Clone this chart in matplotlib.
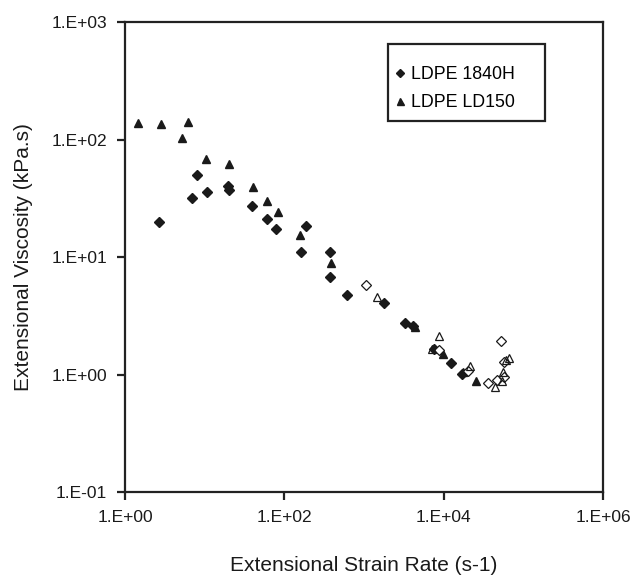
import matplotlib
matplotlib.use("Agg")
import matplotlib.pyplot as plt
from matplotlib.patches import Rectangle
from matplotlib.ticker import FixedLocator, NullLocator

plt.rcParams['font.family'] = ['Liberation Sans', 'DejaVu Sans']

# LDPE 1840H (filled diamonds)
rate_1840h = [2.67, 6.87, 8.08, 10.6, 19.8, 20.0, 39.6, 60.0, 79.1, 185, 160, 373, 373,
              605, 1760, 3230, 4140, 7600, 12500, 17100]
visc_1840h = [19.7, 31.6, 50.1, 35.7, 40.2, 36.9, 27.2, 21.0, 17.4, 18.5, 11.0, 11.1, 6.79,
              4.75, 4.04, 2.77, 2.57, 1.66, 1.25, 1.02]

# LDPE LD150 (filled triangles)
rate_ld150 = [1.47, 2.83, 6.12, 5.19, 10.5, 20.0, 40.0, 60.5, 82.4, 158, 381, 4310,
              9860, 17600, 25700]
visc_ld150 = [139, 135, 141, 104, 67.8, 61.5, 39.2, 30.1, 24.2, 15.5, 8.83, 2.54,
              1.49, 1.05, 0.889]

# LDPE 1840H, second set (open diamonds)
rate_1840h_b = [1047, 8790, 20100, 35900, 46100, 51800, 57400, 57800]
visc_1840h_b = [5.78, 1.62, 1.07, 0.851, 0.898, 1.92, 1.27, 0.948]

# LDPE LD150, second set (open triangles)
rate_ld150_b = [1465, 8630, 7050, 21300, 44300, 60800, 65200, 55800, 53700]
visc_ld150_b = [4.54, 2.13, 1.66, 1.19, 0.787, 1.34, 1.38, 1.06, 0.877]

x_ticks = [1e0, 1e2, 1e4, 1e6]
x_tick_labels = ["1.E+00", "1.E+02", "1.E+04", "1.E+06"]
y_ticks = [1e-1, 1e0, 1e1, 1e2, 1e3]
y_tick_labels = ["1.E-01", "1.E+00", "1.E+01", "1.E+02", "1.E+03"]

fig = plt.figure(figsize=(6.42, 5.82), dpi=100)
ax = fig.add_axes([0.1947, 0.1546, 0.7445, 0.8076])

ink = "#1a1a1a"
ax.plot(rate_1840h, visc_1840h, linestyle="none", marker="D", ms=4.8,
        color=ink, mec=ink, label="LDPE 1840H")
ax.plot(rate_ld150, visc_ld150, linestyle="none", marker="^", ms=6.3,
        color=ink, mec=ink, label="LDPE LD150")
ax.plot(rate_1840h_b, visc_1840h_b, linestyle="none", marker="D", ms=4.8,
        mfc="white", mec=ink, mew=0.9)
ax.plot(rate_ld150_b, visc_ld150_b, linestyle="none", marker="^", ms=6.3,
        mfc="none", mec=ink, mew=0.9)

ax.set_xscale("log")
ax.set_yscale("log")
ax.set_xlim(1e0, 1e6)
ax.set_ylim(1e-1, 1e3)

ax.xaxis.set_major_locator(FixedLocator(x_ticks))
ax.xaxis.set_minor_locator(NullLocator())
ax.set_xticklabels(x_tick_labels)
ax.yaxis.set_major_locator(FixedLocator(y_ticks))
ax.yaxis.set_minor_locator(NullLocator())
ax.set_yticklabels(y_tick_labels)

for s in ax.spines.values():
    s.set_linewidth(1.6)
    s.set_color("#222222")
ax.tick_params(axis="both", which="major", direction="out", length=6, width=1.6,
               color="#222222", labelsize=12.5, labelcolor="#1a1a1a", pad=7)

ax.set_xlabel("Extensional Strain Rate (s-1)", fontsize=15, color="#1a1a1a", labelpad=22)
ax.set_ylabel("Extensional Viscosity (kPa.s)", fontsize=15, color="#1a1a1a", labelpad=13)

# legend box drawn as its own frame, entries placed inside it
ax.add_patch(Rectangle((0.550, 0.789), 0.329, 0.164, transform=ax.transAxes,
                       facecolor="white", edgecolor="#222222", linewidth=1.6, zorder=4))
leg = ax.legend(loc="center left", bbox_to_anchor=(0.554, 0.858), fontsize=12.8,
                frameon=False, handlelength=0.7, handletextpad=0.3, labelspacing=0.62,
                borderpad=0.2, markerscale=0.8, borderaxespad=0)
leg.set_zorder(5)

fig.savefig("out.png", dpi=100)
